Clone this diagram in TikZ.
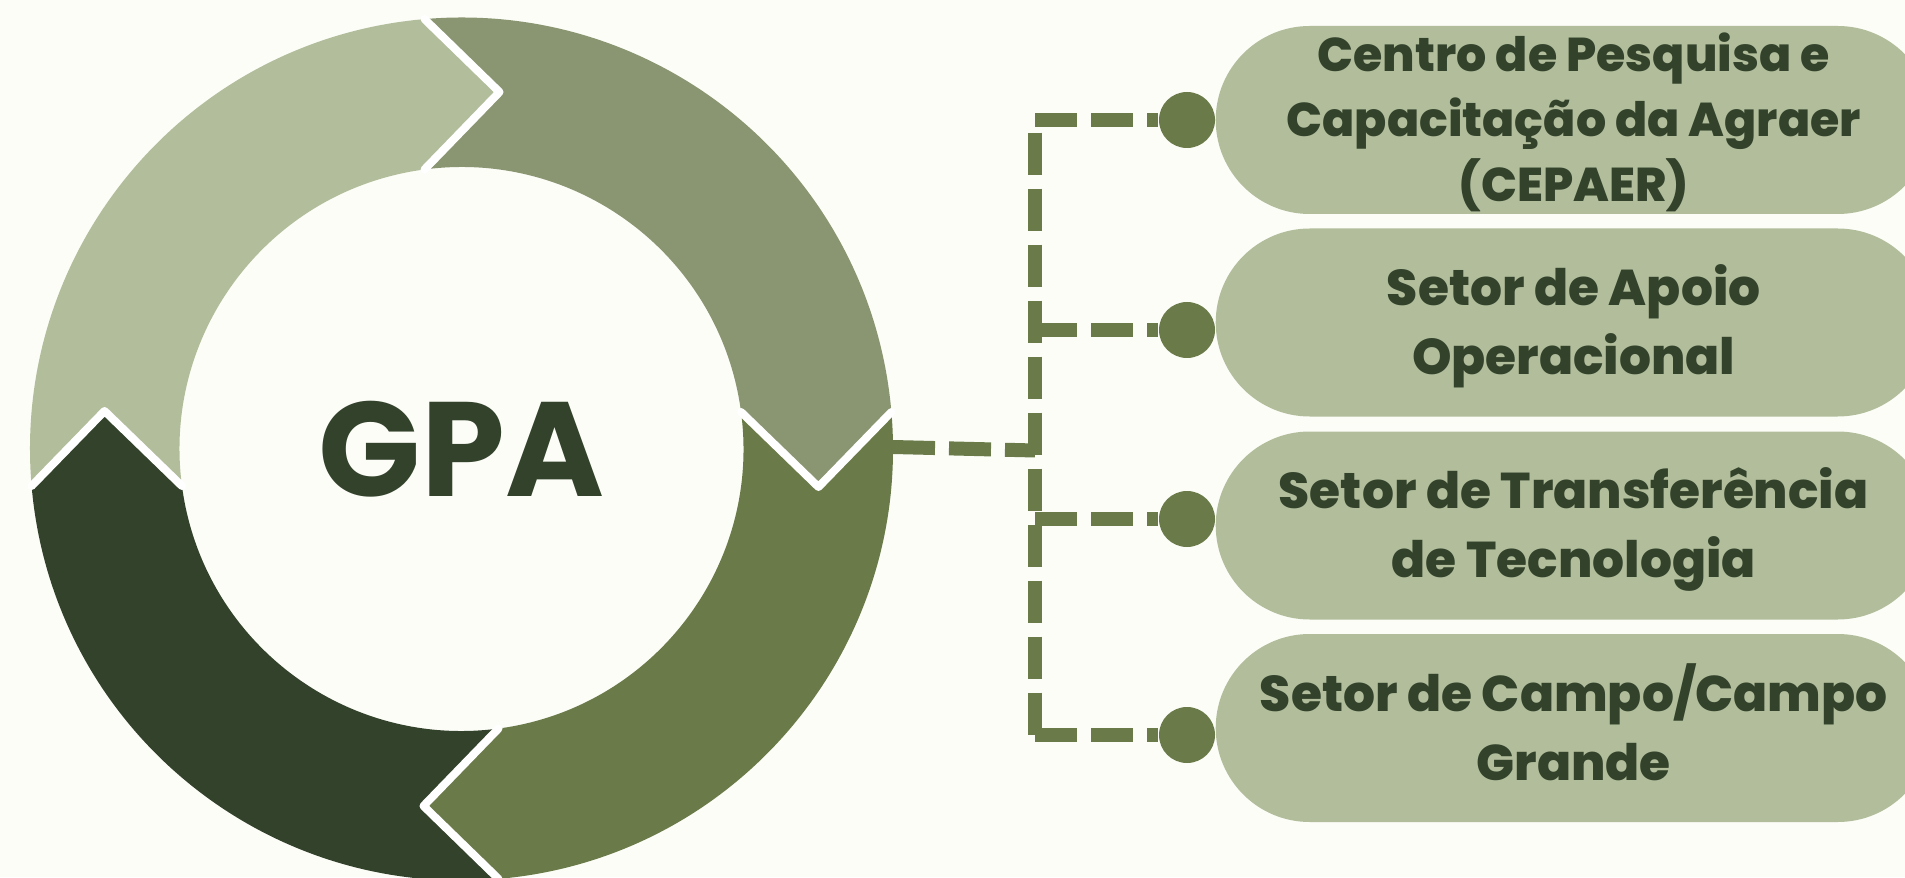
\documentclass[tikz,border=0pt]{standalone}
\usepackage{fontspec}
\setmainfont{Poppins}[BoldFont={Poppins Bold}]
\newfontfamily\grossa{Poppins ExtraBold}
\usepackage{tikz}
\usetikzlibrary{calc}

\definecolor{fon}{HTML}{FCFDF7}
\definecolor{svetlo}{HTML}{B1BD9B}
\definecolor{sredne}{HTML}{8A9571}
\definecolor{oliva}{HTML}{6A7B49}
\definecolor{temno}{HTML}{33422B}

\begin{document}
\begin{tikzpicture}[
	punkt/.style={circle, fill=oliva, minimum size=5.6mm, inner sep=0pt},
	otdel/.style={rectangle, rounded corners=9.4mm, fill=svetlo, minimum width=71.6mm,
		minimum height=18.8mm, inner ysep=0pt, anchor=west, align=center, text=temno,
		text height=29.6pt, text depth=0pt,
		font=\fontsize{14.3}{19.6}\selectfont\grossa},
	shtrih/.style={draw=oliva, line width=1.4mm, dash pattern=on 4.2mm off 1.4mm},
]
	% параметры
	\def\W{19.05}  % ширина рисунка
	\def\H{8.77}   % высота рисунка
	\def\Ro{4.315} % внешний радиус кольца
	\def\Ri{2.82}  % внутренний радиус кольца
	\def\Rm{3.59}  % радиус острия стрелки

	% фон и обрезка
	\path[use as bounding box, fill=fon] (0,0) rectangle (\W,\H);
	\clip (0,0) rectangle (\W,\H);

	% кольцо из четырёх стрелок
	\begin{scope}[shift={(4.615,4.28)}]
		\foreach \a/\b/\c in {180/90/svetlo, 90/0/sredne, 0/-90/oliva, -90/-180/temno}
			\fill[\c] ({\a+4.92}:\Ro) arc[start angle=\a+4.92, end angle=\b+4.92, radius=\Ro]
				-- ({\b-6.08}:\Rm) -- ({\b+7.54}:\Ri)
				arc[start angle=\b+7.54, end angle=\a+7.54, radius=\Ri]
				-- ({\a-6.08}:\Rm) -- cycle;

		% белые щели
		\foreach \a in {0,90,180,270}
			\draw[white, line width=0.8mm, line join=round, line cap=round]
				({\a+4.92}:\Ro) -- ({\a-6.08}:\Rm) -- ({\a+7.54}:\Ri);
	\end{scope}

	\node[font=\fontsize{38.2}{40}\selectfont\bfseries, text=temno] (hub) at (4.615,4.28) {GPA};

	% отделы
	\node[otdel, text height=46.4pt, font=\fontsize{13.5}{18.5}\selectfont\grossa]
		(cepaer) at (12.15,7.57) {Centro de Pesquisa e\\Capacitação da Agraer\\(CEPAER)};
	\node[otdel] (apoio) at (12.15,5.545) {Setor de Apoio\\Operacional};
	\node[otdel] (transf) at (12.15,3.515) {Setor de Transferência\\de Tecnologia};
	\node[otdel] (campo) at (12.15,1.49) {Setor de Campo/Campo\\Grande};

	% точки
	\node[punkt] (t1) at (11.87,7.57) {};
	\node[punkt] (t2) at (11.87,5.47) {};
	\node[punkt] (t3) at (11.87,3.58) {};
	\node[punkt] (t4) at (11.87,1.42) {};

	% узлы на стволе
	\coordinate (j1) at (10.35,7.57);
	\coordinate (j2) at (10.35,5.47);
	\coordinate (j3) at (10.35,3.58);
	\coordinate (j4) at (10.35,1.42);
	\coordinate (kraj) at (8.93,4.30);
	\coordinate (jc) at (10.35,4.265);

	% пунктир
	\draw[shtrih] (kraj) -- (jc);
	\draw[shtrih, dash phase=4.33mm] (j1) -- (j4);
	\foreach \i in {1,...,4}
		\draw[shtrih] (j\i) -- (t\i);
\end{tikzpicture}
\end{document}
